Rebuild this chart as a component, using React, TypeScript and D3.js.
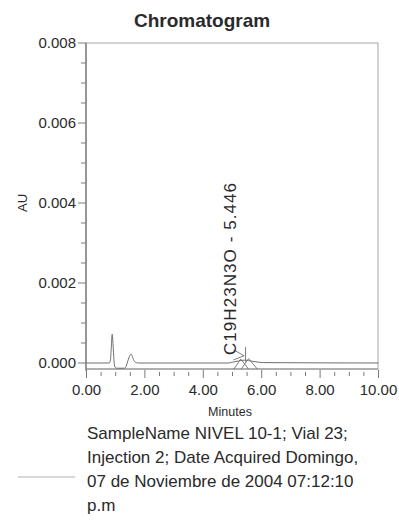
import React from "react";
import * as d3 from "d3";

const titleText = "Chromatogram";
const xLabel = "Minutes";
const yLabel = "AU";
const xTicks = [0, 2, 4, 6, 8, 10];
const yTicks = [0, 0.002, 0.004, 0.006, 0.008];
const traceTimes = [0, 0.78, 0.82, 0.85, 0.88, 0.91, 0.94, 0.97, 1.0, 1.05, 1.3, 1.36, 1.42, 1.48, 1.53, 1.58, 1.64, 1.7, 1.78, 4.85, 5.0, 5.2, 5.4, 5.55, 5.7, 5.9, 6.05, 10];
const traceValues = [0, 0, 0.00008, 0.0004, 0.00072, 0.00045, 0.00008, -0.0001, -0.00012, -0.00013, -0.00013, -0.00008, 0.00006, 0.00018, 0.00022, 0.00014, 0.00004, 0.00001, 0, 0, 0.00002, 0.00005, 0.00007, 0.00006, 0.00004, 0.00002, 0.00001, 0];
const peakTime = 5.446;
const peakLabel = "C19H23N3O - 5.446";
const peakTop = 0.0004;
const markStarts = [5.05, 5.3];
const markApexes = [5.28, 5.55];
const markEnds = [5.55, 5.85];
const markApexValues = [0.0001, 0.00011];
const legendLines = [
  "SampleName NIVEL 10-1; Vial 23;",
  "Injection 2; Date Acquired Domingo,",
  "07 de Noviembre de 2004 07:12:10",
  "p.m",
];

const FONT = "'Liberation Sans', Arial, Helvetica, sans-serif";
const TXT = "#2a2a2a";

export default function App() {
  const left = 86, right = 378, top = 43, bottom = 369;
  const x = d3.scaleLinear().domain([0, 10]).range([left + 0.5, right + 0.5]);
  const y = d3.scaleLinear().domain([-0.00015, 0.008]).range([bottom, top]);

  const line = d3
    .line<number>()
    .x((_, i) => x(traceTimes[i]))
    .y((v) => y(v))
    .curve(d3.curveMonotoneX);

  const xMinor = d3.range(0, 10.001, 0.5);
  const yMinor = d3.range(0, 0.00801, 0.0005);

  const labelX = x(peakTime) - 16;
  const labelY = y(0.0002);

  return (
    <svg
      width={399}
      height={523}
      style={{ position: "absolute", left: 0, top: 0, background: "#fff" }}
      fontFamily={FONT}
    >
      <text x={202} y={27} textAnchor="middle" fontSize={19} fontWeight="bold" fill={TXT}>
        {titleText}
      </text>

      {/* frame */}
      <rect x={left} y={top} width={right - left} height={bottom - top} fill="none" stroke="#a8a8a8" strokeWidth={1} />
      <line x1={left} x2={left} y1={top} y2={bottom + 2} stroke="#6e6e6e" strokeWidth={1.2} />
      <line x1={left} x2={right} y1={bottom} y2={bottom} stroke="#8a8a8a" strokeWidth={1} />

      {/* y axis ticks */}
      {yMinor.map((t, i) => {
        const major = yTicks.some((m) => Math.abs(m - t) < 1e-9);
        return (
          <line key={"ym" + i} x1={major ? left - 8 : left - 5} x2={left} y1={y(t)} y2={y(t)} stroke="#7a7a7a" strokeWidth={1} />
        );
      })}
      {yTicks.map((t) => (
        <text key={"yt" + t} x={left - 10} y={y(t) + 5} textAnchor="end" fontSize={15} fill={TXT}>
          {t.toFixed(3)}
        </text>
      ))}
      <text transform={`translate(27,${y(0.004)}) rotate(-90)`} textAnchor="middle" fontSize={13} fill={TXT}>
        {yLabel}
      </text>

      {/* x axis ticks */}
      {xMinor.map((t, i) => {
        const major = xTicks.some((m) => Math.abs(m - t) < 1e-9);
        return (
          <line key={"xm" + i} x1={x(t)} x2={x(t)} y1={bottom + (major ? 1 : 3)} y2={bottom + (major ? 9 : 7)} stroke="#7a7a7a" strokeWidth={1} />
        );
      })}
      {xTicks.map((t) => (
        <text key={"xt" + t} x={x(t)} y={395} textAnchor="middle" fontSize={15} fill={TXT}>
          {t.toFixed(2)}
        </text>
      ))}
      <text x={230} y={416} textAnchor="middle" fontSize={12.5} fill={TXT}>
        {xLabel}
      </text>

      {/* trace */}
      <path d={line(traceValues) || ""} fill="none" stroke="#6f6f6f" strokeWidth={1} />

      {/* peak markers */}
      <line x1={x(peakTime)} x2={x(peakTime)} y1={y(0.00003)} y2={y(peakTop)} stroke="#6f6f6f" strokeWidth={0.9} />
      <line x1={labelX + 4} y1={y(0.00033)} x2={x(5.4)} y2={y(0.00018)} stroke="#6f6f6f" strokeWidth={0.9} />
      <line x1={labelX + 4} y1={y(0.00008)} x2={x(5.4)} y2={y(0.00018)} stroke="#6f6f6f" strokeWidth={0.9} />
      {markStarts.map((s, i) => (
        <polyline
          key={"mk" + i}
          points={`${x(s)},${bottom} ${x(markApexes[i])},${y(markApexValues[i])} ${x(markEnds[i])},${bottom}`}
          fill="none"
          stroke="#6f6f6f"
          strokeWidth={0.9}
        />
      ))}
      <text
        transform={`translate(${labelX + 6},${labelY}) rotate(-90)`}
        fontSize={17}
        fill={TXT}
        textLength={172}
        lengthAdjust="spacing"
      >
        {peakLabel}
      </text>

      {/* legend */}
      <line x1={18} x2={75} y1={477} y2={477} stroke="#b0b0b0" strokeWidth={1} />
      {legendLines.map((s, i) => (
        <text key={"lg" + i} x={87} y={439 + i * 24} fontSize={17} fill={TXT}>
          {s}
        </text>
      ))}
    </svg>
  );
}
